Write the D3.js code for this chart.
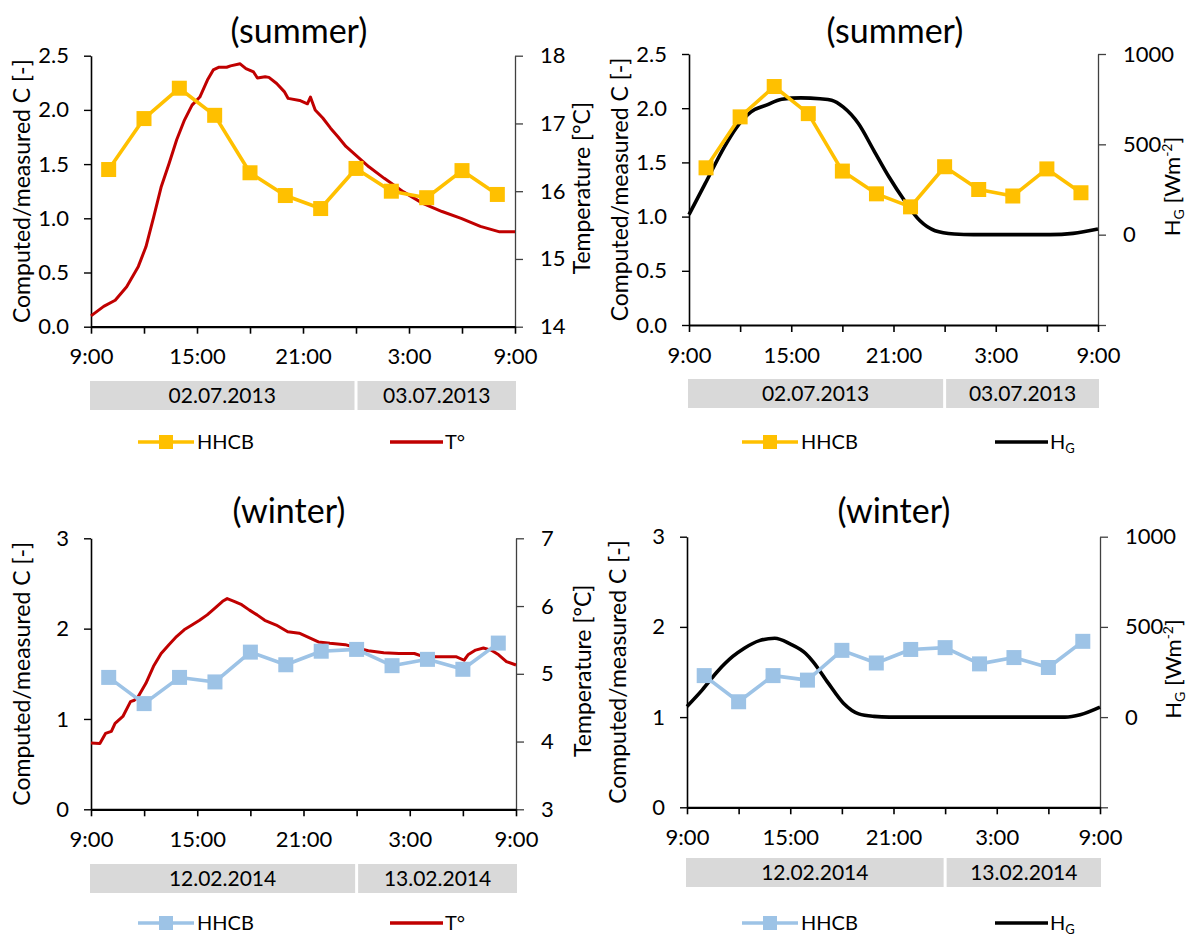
<!DOCTYPE html>
<html>
<head>
<meta charset="utf-8">
<script src="https://cdn.jsdelivr.net/npm/d3@7"></script>
<style>
  html, body { margin: 0; padding: 0; background: #fff; }
  svg { display: block; font-family: Lato, "Open Sans", sans-serif; }
</style>
</head>
<body>
<svg id="chart" width="1190" height="936"></svg>
<script>
// ---- data (time = hours after 9:00 on the first day) ----
const hhcbHours = [1, 3, 5, 7, 9, 11, 13, 15, 17, 19, 21, 23];
const summerHHCB = [1.45, 1.92, 2.20, 1.95, 1.42, 1.21, 1.09, 1.46, 1.25, 1.19, 1.44, 1.22];
const winterHHCB = [1.46, 1.17, 1.46, 1.41, 1.74, 1.60, 1.75, 1.77, 1.59, 1.66, 1.55, 1.84];

const summerTempHours = [0, 0.72, 1.37, 2.02, 2.68, 3.11, 3.55, 3.98, 4.42, 4.85, 5.29, 5.72, 6.16, 6.59, 6.92,
  7.25, 7.68, 7.9, 8.44, 8.77, 9.2, 9.42, 9.86, 10.07, 10.51, 10.94, 11.16, 11.81, 12.25, 12.42, 12.69,
  13.12, 13.56, 13.99, 14.43, 15.08, 15.73, 16.6, 17.69, 18.78, 19.87, 20.95, 22.04, 23.13, 24];
const summerTemp = [14.16, 14.30, 14.39, 14.59, 14.89, 15.18, 15.62, 16.07, 16.41, 16.76, 17.05, 17.27, 17.39, 17.64, 17.79,
  17.83, 17.83, 17.85, 17.88, 17.81, 17.76, 17.67, 17.69, 17.68, 17.59, 17.47, 17.37, 17.34, 17.29, 17.39, 17.20,
  17.08, 16.93, 16.80, 16.66, 16.51, 16.36, 16.19, 15.99, 15.82, 15.70, 15.60, 15.48, 15.40, 15.40];

const winterTempHours = [0, 0.5, 0.82, 1.15, 1.36, 1.8, 2.23, 2.45, 2.66, 3.1, 3.53, 3.96, 4.4, 4.83, 5.26, 5.7,
  6.13, 6.56, 7.0, 7.43, 7.69, 8.08, 8.51, 8.95, 9.38, 9.81, 10.46, 11.11, 11.76, 12.19, 12.84, 13.49, 14.36,
  15.01, 15.66, 16.53, 17.39, 18.26, 18.69, 19.34, 19.99, 20.64, 21.07, 21.29, 21.72, 22.16, 22.59, 23.02, 23.46, 24];
const winterTemp = [3.98, 3.97, 4.12, 4.15, 4.27, 4.37, 4.59, 4.61, 4.66, 4.86, 5.11, 5.30, 5.43, 5.55, 5.65, 5.72,
  5.79, 5.87, 5.97, 6.07, 6.11, 6.07, 6.02, 5.94, 5.87, 5.79, 5.72, 5.62, 5.60, 5.55, 5.47, 5.45, 5.43,
  5.38, 5.34, 5.31, 5.30, 5.30, 5.26, 5.25, 5.25, 5.25, 5.20, 5.28, 5.35, 5.38, 5.35, 5.28, 5.18, 5.13];

const summerHGHours = [0, 0.94, 2.07, 2.74, 3.64, 4.54, 5.44, 6.57, 7.69, 8.37, 9.04, 9.94, 10.84, 11.74,
  12.64, 13.54, 14.44, 15.56, 16.69, 21.19, 22.54, 24];
const summerHG = [111, 281, 485, 587, 680, 717, 750, 757, 752, 744, 707, 615, 467, 319,
  189, 78, 22, 4, 0, 0, 7, 31];

const winterHGHours = [0, 0.89, 1.77, 2.66, 3.33, 4.21, 5.1, 5.99, 6.88, 7.32, 8.21, 9.09, 9.98, 10.87, 11.76,
  21.96, 22.85, 24];
const winterHG = [59, 151, 253, 336, 382, 424, 437, 406, 354, 308, 188, 77, 18, 4, 0, 0, 13, 55];

const majorHours = [0, 6, 12, 18, 24];
const hourLabels = ["9:00", "15:00", "21:00", "3:00", "9:00"];
const minorHours = [0, 3, 6, 9, 12, 15, 18, 21, 24];
const midnightHour = 15;

const summerDates = ["02.07.2013", "03.07.2013"];
const winterDates = ["12.02.2014", "13.02.2014"];

const summerLeftTicks = [0, 0.5, 1, 1.5, 2, 2.5];
const winterLeftTicks = [0, 1, 2, 3];
const summerTempTicks = [14, 15, 16, 17, 18];
const winterTempTicks = [3, 4, 5, 6, 7];
const hgTicks = [-500, 0, 500, 1000];

const colors = { summer: "#FFC000", winter: "#9DC3E6", temp: "#C00000", hg: "#000000", box: "#D9D9D9" };

// ---- drawing ----
const svg = d3.select("#chart");

function drawPanel(p) {
  const g = svg.append("g");
  const x = d3.scaleLinear().domain([0, 24]).range([p.x0, p.x1]);
  const yL = d3.scaleLinear().domain(p.leftDomain).range([p.yBot, p.yTop]);
  const yR = d3.scaleLinear().domain(p.rightDomain).range([p.yBot, p.yTop]);

  // title
  g.append("text").attr("x", p.titleX).attr("y", p.titleY).attr("text-anchor", "middle")
    .attr("font-size", 34).attr("fill", "#000").text(p.title);

  // left axis
  const ax = g.append("g").attr("transform", `translate(${p.x0},0)`)
    .call(d3.axisLeft(yL).tickValues(p.leftTicks).tickFormat(d3.format(p.leftFormat))
      .tickSize(7).tickSizeOuter(0).tickPadding(15));
  ax.select(".domain").attr("stroke", "#000").attr("stroke-width", 1.6);
  ax.selectAll(".tick line").attr("stroke", "#000").attr("stroke-width", 1.4);
  ax.selectAll("text").attr("font-size", 22).attr("font-family", "Lato").attr("fill", "#000");

  // right axis
  const ar = g.append("g").attr("transform", `translate(${p.x1},0)`)
    .call(d3.axisRight(yR).tickValues(p.rightTicks).tickFormat(d => d < 0 ? "" : d)
      .tickSize(8).tickSizeOuter(0).tickPadding(17));
  ar.select(".domain").attr("stroke", "#404040").attr("stroke-width", 1.3);
  ar.selectAll(".tick line").attr("stroke", "#404040").attr("stroke-width", 1.3);
  ar.selectAll("text").attr("font-size", 22).attr("font-family", "Lato").attr("fill", "#000");

  // bottom axis
  const ab = g.append("g").attr("transform", `translate(0,${p.yBot})`)
    .call(d3.axisBottom(x).tickValues(minorHours)
      .tickFormat(d => { const i = majorHours.indexOf(d); return i >= 0 ? hourLabels[i] : ""; })
      .tickSize(7).tickSizeOuter(0).tickPadding(15));
  ab.select(".domain").attr("stroke", "#000").attr("stroke-width", 2.2);
  ab.selectAll(".tick line").attr("stroke", "#000").attr("stroke-width", 1.6);
  ab.selectAll("text").attr("font-size", 22).attr("font-family", "Lato").attr("fill", "#000");

  // axis titles
  g.append("text").attr("transform", `translate(${p.x0 - 69},${(p.yTop + p.yBot) / 2}) rotate(-90)`)
    .attr("text-anchor", "middle").attr("dy", "0.35em").attr("font-size", 23).attr("fill", "#000")
    .text("Computed/measured C [-]");
  const rt = g.append("text")
    .attr("transform", `translate(${p.x1 + p.rightTitleOffset},${(p.yTop + p.yBot) / 2 - 3}) rotate(-90)`)
    .attr("text-anchor", "middle").attr("dy", "0.35em").attr("font-size", p.rightKind === "temp" ? 23 : 22)
    .attr("fill", "#000");
  if (p.rightKind === "temp") {
    rt.text("Temperature [°C]");
  } else {
    rt.append("tspan").text("H");
    rt.append("tspan").attr("font-size", 14).attr("dy", 4).text("G");
    rt.append("tspan").attr("dy", -4).text(" [Wm");
    rt.append("tspan").attr("font-size", 14).attr("dy", -8).text("-2");
    rt.append("tspan").attr("dy", 8).text("]");
  }

  // right-axis series
  const rightLine = d3.line().x(d => x(d[0])).y(d => yR(d[1]))
    .curve(p.rightKind === "temp" ? d3.curveLinear : d3.curveMonotoneX);
  g.append("path").datum(d3.zip(p.rightHours, p.rightValues)).attr("d", rightLine)
    .attr("fill", "none").attr("stroke", p.rightColor).attr("stroke-width", p.rightKind === "temp" ? 3 : 3.6)
    .attr("stroke-linejoin", "round");

  // HHCB series
  const hh = d3.zip(hhcbHours, p.hhcb);
  g.append("path").datum(hh).attr("d", d3.line().x(d => x(d[0])).y(d => yL(d[1])))
    .attr("fill", "none").attr("stroke", p.hhcbColor).attr("stroke-width", 3.6).attr("stroke-linejoin", "round");
  g.selectAll("rect.mk").data(hh).enter().append("rect").attr("class", "mk")
    .attr("x", d => x(d[0]) - 7.5).attr("y", d => yL(d[1]) - 7.5)
    .attr("width", 15).attr("height", 15).attr("fill", p.hhcbColor);

  // date boxes
  const xm = x(midnightHour);
  const boxes = [[p.x0 - 1, xm - 1.5, p.dates[0]], [xm + 1.5, p.x1 + 1, p.dates[1]]];
  boxes.forEach(b => {
    g.append("rect").attr("x", b[0]).attr("y", p.boxTop).attr("width", b[1] - b[0]).attr("height", 29)
      .attr("fill", colors.box);
    g.append("text").attr("x", (b[0] + b[1]) / 2).attr("y", p.boxTop + 15).attr("dy", "0.35em")
      .attr("text-anchor", "middle").attr("font-size", 21).attr("fill", "#000").text(b[2]);
  });

  // legend
  const ly = p.legendY;
  g.append("line").attr("x1", p.legX1).attr("x2", p.legX1 + 56).attr("y1", ly).attr("y2", ly)
    .attr("stroke", p.hhcbColor).attr("stroke-width", 3.6);
  g.append("rect").attr("x", p.legX1 + 28 - 7).attr("y", ly - 7).attr("width", 14).attr("height", 14)
    .attr("fill", p.hhcbColor);
  g.append("text").attr("x", p.legX1 + 59).attr("y", ly).attr("dy", "0.35em").attr("font-size", 20)
    .attr("fill", "#000").text("HHCB");
  g.append("line").attr("x1", p.legX2).attr("x2", p.legX2 + 53).attr("y1", ly).attr("y2", ly)
    .attr("stroke", p.rightColor).attr("stroke-width", 3.6);
  const lt = g.append("text").attr("x", p.legX2 + 55).attr("y", ly).attr("dy", "0.35em")
    .attr("font-size", 20).attr("fill", "#000");
  if (p.rightKind === "temp") {
    lt.text("T°");
  } else {
    lt.append("tspan").text("H");
    lt.append("tspan").attr("font-size", 13).attr("dy", 4).text("G");
  }
}

drawPanel({
  x0: 91, x1: 515, yTop: 55.7, yBot: 326.7,
  title: "(summer)", titleX: 299, titleY: 43,
  leftDomain: [0, 2.5], leftTicks: summerLeftTicks, leftFormat: ".1f",
  rightDomain: [14, 18], rightTicks: summerTempTicks, rightKind: "temp", rightTitleOffset: 67,
  rightHours: summerTempHours, rightValues: summerTemp, rightColor: colors.temp,
  hhcb: summerHHCB, hhcbColor: colors.summer, dates: summerDates, boxTop: 381,
  legendY: 442, legX1: 138, legX2: 390
});

drawPanel({
  x0: 689, x1: 1098, yTop: 54, yBot: 325,
  title: "(summer)", titleX: 895, titleY: 43,
  leftDomain: [0, 2.5], leftTicks: summerLeftTicks, leftFormat: ".1f",
  rightDomain: [-500, 1000], rightTicks: hgTicks, rightKind: "hg", rightTitleOffset: 74,
  rightHours: summerHGHours, rightValues: summerHG, rightColor: colors.hg,
  hhcb: summerHHCB, hhcbColor: colors.summer, dates: summerDates, boxTop: 379,
  legendY: 442, legX1: 742, legX2: 995
});

drawPanel({
  x0: 91, x1: 516, yTop: 538.3, yBot: 809.3,
  title: "(winter)", titleX: 289, titleY: 523,
  leftDomain: [0, 3], leftTicks: winterLeftTicks, leftFormat: "d",
  rightDomain: [3, 7], rightTicks: winterTempTicks, rightKind: "temp", rightTitleOffset: 67,
  rightHours: winterTempHours, rightValues: winterTemp, rightColor: colors.temp,
  hhcb: winterHHCB, hhcbColor: colors.winter, dates: winterDates, boxTop: 864,
  legendY: 923, legX1: 138, legX2: 390
});

drawPanel({
  x0: 687, x1: 1100, yTop: 536.7, yBot: 807.3,
  title: "(winter)", titleX: 894, titleY: 523,
  leftDomain: [0, 3], leftTicks: winterLeftTicks, leftFormat: "d",
  rightDomain: [-500, 1000], rightTicks: hgTicks, rightKind: "hg", rightTitleOffset: 73,
  rightHours: winterHGHours, rightValues: winterHG, rightColor: colors.hg,
  hhcb: winterHHCB, hhcbColor: colors.winter, dates: winterDates, boxTop: 858,
  legendY: 923, legX1: 742, legX2: 995
});
</script>
</body>
</html>
